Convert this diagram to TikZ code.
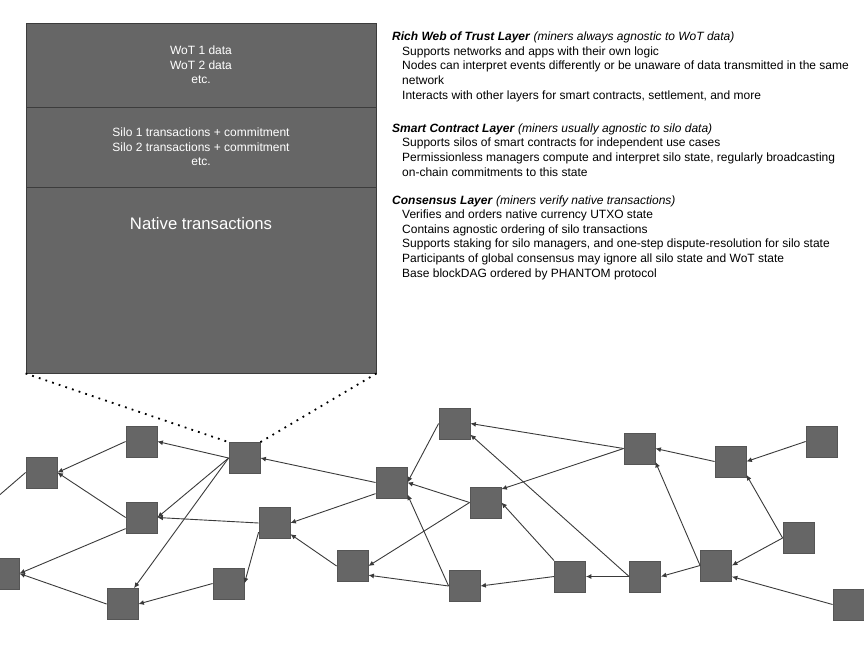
\documentclass[tikz,border=0pt]{standalone}
\usepackage{fontspec}
\setmainfont{Liberation Sans}
\usetikzlibrary{arrows.meta}
\definecolor{blkfill}{HTML}{666666}
\definecolor{blkline}{HTML}{555555}
\definecolor{lyrline}{HTML}{3C3C3C}
\definecolor{lnkcol}{HTML}{3A3A3A}

\begin{document}
\begin{tikzpicture}[x=1pt,y=-1pt,
	blk/.style={draw=blkline,fill=blkfill,minimum size=31pt,inner sep=0pt,line width=0.8pt},
	lyr/.style={draw=lyrline,fill=blkfill,minimum width=350pt,inner sep=0pt,text=white,align=center,font=\fontsize{12}{14.5}\selectfont,line width=0.9pt},
	lnk/.style={draw=lnkcol,line width=0.9pt,-{Latex[length=5.5pt,width=5pt]}},
	zoomln/.style={line width=1.8pt,dash pattern=on 1.8pt off 5.2pt},
	txt/.style={anchor=base west,inner sep=0pt,align=left,font=\fontsize{12}{14.6}\selectfont}]
	\clip (0,0) rectangle (864,648);
	% layers of one block
	\node[lyr,minimum height=84pt] (wot) at (201,65) {WoT 1 data\\WoT 2 data\\etc.};
	\node[lyr,minimum height=80pt] (silo) at (201,147) {Silo 1 transactions + commitment\\Silo 2 transactions + commitment\\etc.};
	\node[lyr,minimum height=186pt] (native) at (201,280) {};
	\node[text=white,font=\fontsize{16.7}{20}\selectfont] (nativetxt) at (201,224) {Native transactions};
	% blockDAG
	\foreach \n/\x/\y in {a/141.5/441.5, b/41.5/472.5, c/244.5/458, d/141.5/517.5, e/274.5/523,
			f/3.5/573.5, g/228.5/583.5, h/122.5/604, i/391.5/482.5, j/454.5/423.5, k/485.5/502.5,
			l/352.5/566, m/464.5/586, n/570/576.5, o/639.5/448.5, p/645/576.5, q/730.5/461.5,
			r/821.5/441.5, s/798.5/538, t/716/565.5, u/848.5/604.5}
		\node[blk] (\n) at (\x,\y) {};
	\foreach \s/\t in {c.west/a.east, a.west/b.east, d.west/b.east, c.west/d.east, c.west/h,
			d.215/f.east, h.west/f.east, g.west/h.east, e.210/g.east, e.west/d.east,
			i.west/c.east, i.215/e.east, l.west/e.325, j.west/i.east, k.west/i.east, m.west/i.323,
			k.west/l.east, m.west/l.330, n.west/m.east, n.north west/k.east, o.west/j.east,
			o.west/k.40, p.west/j.325, p.west/n.east, q.west/o.east, r.west/q.east, s.west/q.320,
			s.west/t.east, u.west/t.325, t.west/p.east, t.west/o.320}
		\draw[lnk] (\s) -- (\t);
	\coordinate (older) at (-26,517);
	\draw[draw=lnkcol,line width=0.9pt] (b.west) -- (older);
	% zoom from one block to its layers
	\draw[zoomln] (native.south west) -- (c.north west);
	\draw[zoomln] (native.south east) -- (c.north east);
	% layer notes (placed by their last line)
	\node[txt] (rich) at (392,99) {\textbf{\textit{Rich Web of Trust Layer}} \textit{(miners always agnostic to WoT data)}\\
		\hspace*{10pt}Supports networks and apps with their own logic\\
		\hspace*{10pt}Nodes can interpret events differently or be unaware of data transmitted in the same\\
		\hspace*{10pt}network\\
		\hspace*{10pt}Interacts with other layers for smart contracts, settlement, and more};
	\node[txt] (smart) at (392,176) {\textbf{\textit{Smart Contract Layer}} \textit{(miners usually agnostic to silo data)}\\
		\hspace*{10pt}Supports silos of smart contracts for independent use cases\\
		\hspace*{10pt}Permissionless managers compute and interpret silo state, regularly broadcasting\\
		\hspace*{10pt}on-chain commitments to this state};
	\node[txt] (consensus) at (392,277) {\textbf{\textit{Consensus Layer}} \textit{(miners verify native transactions)}\\
		\hspace*{10pt}Verifies and orders native currency UTXO state\\
		\hspace*{10pt}Contains agnostic ordering of silo transactions\\
		\hspace*{10pt}Supports staking for silo managers, and one-step dispute-resolution for silo state\\
		\hspace*{10pt}Participants of global consensus may ignore all silo state and WoT state\\
		\hspace*{10pt}Base blockDAG ordered by PHANTOM protocol};
\end{tikzpicture}
\end{document}
